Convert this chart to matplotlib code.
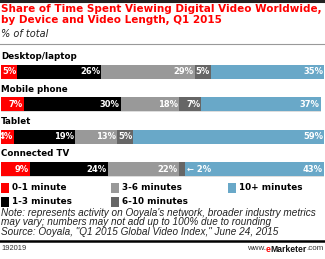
import matplotlib.pyplot as plt
from matplotlib.lines import Line2D
from matplotlib.patches import Rectangle

devices = ["Desktop/laptop", "Mobile phone", "Tablet", "Connected TV"]
lengths = ["0-1 minute", "1-3 minutes", "3-6 minutes", "6-10 minutes", "10+ minutes"]
colors = ["#ff0000", "#000000", "#999999", "#666666", "#69a8c8"]
values = [
    [5, 26, 29, 5, 35],
    [7, 30, 18, 7, 37],
    [4, 19, 13, 5, 59],
    [9, 24, 22, 2, 43],
]

W, H = 325, 259
fig = plt.figure(figsize=(W / 100, H / 100), dpi=100)

def fx(px):
    return px / W

def fy(py):
    return 1 - py / H

# rules
for y0, lw, c in [(1, 2.2, "#222222"), (44, 0.8, "#999999"), (240.5, 1.8, "#000000")]:
    fig.add_artist(Line2D([0, 1], [fy(y0), fy(y0)], color=c, lw=lw))

fig.text(fx(1), fy(4.5), "Share of Time Spent Viewing Digital Video Worldwide,\nby Device and Video Length, Q1 2015",
         color="#ff0000", fontsize=7.5, fontweight="bold", va="top", ha="left", linespacing=1.12)
fig.text(fx(1), fy(34), "% of total", fontsize=7.0, style="italic", va="center", ha="left", color="#222222")

ax = fig.add_axes([fx(1), fy(178), fx(323), (178 - 48) / H])
ax.set_xlim(0, sum(values[0]))
ax.set_ylim(3 + 9 / 32.5, -24 / 32.5)
ax.axis("off")

bar_h = 14 / 32.5
for i, (dev, row) in enumerate(zip(devices, values)):
    left = 0
    ax.barh(i + 0.6 / 32.5, sum(row), left=0, height=bar_h, color="#dddddd", lw=0)
    for j, v in enumerate(row):
        ax.barh(i, v, left=left, height=bar_h, color=colors[j], lw=0)
        right = left + v
        if v >= 4:
            ax.text(right - 0.3, i, f"{v}%", color="white", fontsize=6.0, fontweight="bold",
                    ha="right", va="center")
        else:
            ax.text(right + 0.5, i, f"\u2190 {v}%", color="white", fontsize=6.0, fontweight="bold",
                    ha="left", va="center")
        left = right
    ax.text(0, i - 0.47, dev, fontsize=6.3, fontweight="bold", ha="left", va="center")

# legend, column-major in three columns
col_x = [1, 111, 228]
row_y = [188, 202]
for k, (lab, c) in enumerate(zip(lengths, colors)):
    x0, y0 = col_x[k // 2], row_y[k % 2]
    fig.add_artist(Rectangle((fx(x0), fy(y0 + 5)), fx(8), 10 / H, color=c, lw=0))
    fig.text(fx(x0 + 11), fy(y0), lab, fontsize=6.4, fontweight="bold", va="center", ha="left")

fig.text(fx(1), fy(208), "Note: represents activity on Ooyala's network, broader industry metrics\n"
         "may vary; numbers may not add up to 100% due to rounding\n"
         "Source: Ooyala, \"Q1 2015 Global Video Index,\" June 24, 2015",
         family="Liberation Sans", style="italic", fontsize=7.2, va="top", ha="left", linespacing=0.93,
         color="#222222")

fig.text(fx(1), fy(249), "192019", family="Liberation Sans", fontsize=5.4, va="center", ha="left",
         color="#333333")

# footer url, chained right to left
fig.canvas.draw()
r = fig.canvas.get_renderer()
x_right = fx(324)
for txt, kw in [(".com", dict(color="#333333", fontsize=5.8)),
                ("Marketer", dict(color="#111111", fontsize=6.2, fontweight="bold")),
                ("e", dict(color="#ff0000", fontsize=6.2, fontweight="bold")),
                ("www.", dict(color="#333333", fontsize=5.8))]:
    t = fig.text(x_right, fy(249), txt, family="Liberation Sans", va="center", ha="right", **kw)
    bb = t.get_window_extent(renderer=r)
    x_right -= bb.width / fig.bbox.width

fig.savefig("out.png", dpi=100)
